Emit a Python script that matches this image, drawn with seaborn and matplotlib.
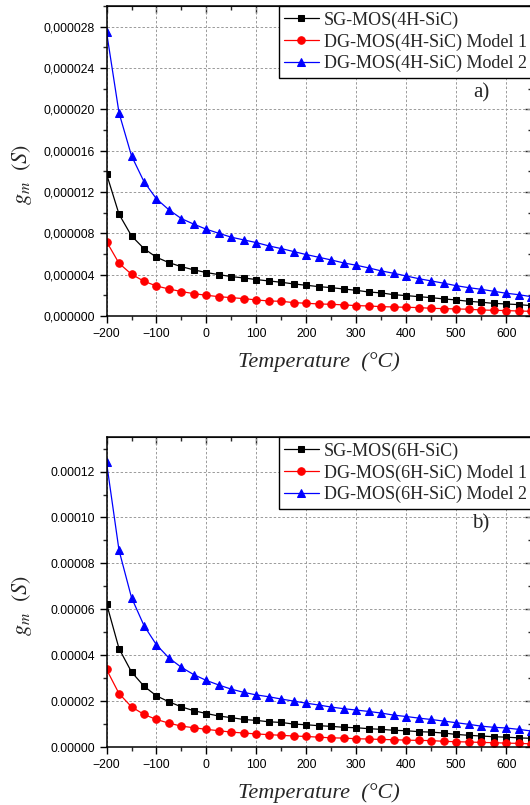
import numpy as np
import matplotlib
matplotlib.use("Agg")
import matplotlib.pyplot as plt
from matplotlib.ticker import MultipleLocator, FuncFormatter
import seaborn as sns

# temperature axis, -200..650 step 25 (35 points)
temperature = list(range(-200, 651, 25))

# a) 4H-SiC, gm in 1e-6 S
sg_4h = [13.75, 9.85, 7.75, 6.52, 5.68, 5.16, 4.77, 4.46, 4.20, 4.00, 3.81, 3.68,
         3.52, 3.39, 3.26, 3.10, 2.97, 2.84, 2.74, 2.61, 2.48, 2.32, 2.23, 2.06,
         1.97, 1.87, 1.77, 1.65, 1.55, 1.42, 1.33, 1.22, 1.16, 1.10, 1.00]
dg1_4h = [7.20, 5.10, 4.04, 3.36, 2.90, 2.61, 2.36, 2.16, 2.00, 1.87, 1.77, 1.68,
          1.55, 1.45, 1.42, 1.29, 1.23, 1.16, 1.13, 1.07, 1.00, 0.97, 0.90, 0.87,
          0.84, 0.81, 0.74, 0.71, 0.68, 0.65, 0.58, 0.55, 0.52, 0.48, 0.45]
dg2_4h = [27.5, 19.66, 15.5, 13.0, 11.33, 10.27, 9.42, 8.88, 8.39, 8.00, 7.62, 7.36,
          7.10, 6.78, 6.52, 6.23, 5.94, 5.68, 5.42, 5.13, 4.91, 4.65, 4.36, 4.13,
          3.87, 3.61, 3.39, 3.17, 2.93, 2.74, 2.58, 2.39, 2.20, 2.06, 1.87]

# b) 6H-SiC, gm in 1e-5 S
sg_6h = [6.25, 4.29, 3.27, 2.65, 2.23, 1.97, 1.75, 1.58, 1.46, 1.35, 1.28, 1.20,
         1.16, 1.10, 1.07, 1.00, 0.97, 0.93, 0.90, 0.86, 0.84, 0.80, 0.77, 0.73,
         0.71, 0.67, 0.65, 0.61, 0.55, 0.51, 0.48, 0.45, 0.43, 0.40, 0.38]
dg1_6h = [3.38, 2.33, 1.75, 1.42, 1.20, 1.04, 0.91, 0.84, 0.77, 0.71, 0.65, 0.61,
          0.57, 0.54, 0.51, 0.48, 0.46, 0.43, 0.40, 0.39, 0.36, 0.35, 0.33, 0.32,
          0.30, 0.29, 0.28, 0.25, 0.23, 0.22, 0.20, 0.19, 0.17, 0.16, 0.14]
dg2_6h = [12.4, 8.57, 6.51, 5.29, 4.45, 3.88, 3.47, 3.15, 2.90, 2.70, 2.52, 2.38,
          2.27, 2.19, 2.09, 2.00, 1.91, 1.83, 1.74, 1.67, 1.61, 1.55, 1.48, 1.39,
          1.33, 1.26, 1.20, 1.13, 1.06, 0.99, 0.91, 0.86, 0.83, 0.77, 0.70]

labels_4h = ["SG-MOS(4H-SiC)", "DG-MOS(4H-SiC) Model 1", "DG-MOS(4H-SiC) Model 2"]
labels_6h = ["SG-MOS(6H-SiC)", "DG-MOS(6H-SiC) Model 1", "DG-MOS(6H-SiC) Model 2"]
colors = ["black", "red", "blue"]
markers = ["s", "o", "^"]
msizes = [4.8, 5.4, 6.0]

sns.set_style("ticks")
plt.rcParams['font.family'] = ['Liberation Sans', 'DejaVu Sans']
plt.rcParams['mathtext.fontset'] = 'stix'

fig = plt.figure(figsize=(5.30, 8.05), dpi=100)
ax_a = fig.add_axes([0.201, 0.6075, 0.803, 0.385])
ax_b = fig.add_axes([0.201, 0.072, 0.803, 0.385])


def draw_panel(ax, series, labels, scale, ylim, ymajor, fmt, tag):
    for vals, lab, c, m, ms in zip(series, labels, colors, markers, msizes):
        sns.lineplot(x=temperature, y=np.array(vals) * scale, ax=ax, color=c,
                     marker=m, markersize=ms, markeredgecolor=c, linewidth=0.9,
                     label=lab)
    ax.set_xlim(-200, 652)
    ax.set_ylim(*ylim)
    ax.xaxis.set_major_locator(MultipleLocator(100))
    ax.xaxis.set_minor_locator(MultipleLocator(50))
    ax.yaxis.set_major_locator(MultipleLocator(ymajor))
    ax.yaxis.set_minor_locator(MultipleLocator(ymajor / 2))
    ax.yaxis.set_major_formatter(FuncFormatter(fmt))
    ax.grid(True, which='major', color='#9a9a9a', linestyle=(0, (2.5, 2)), linewidth=0.7)
    ax.tick_params(which='major', direction='out', length=5, width=1, labelsize=8.8,
                   colors='black')
    ax.tick_params(which='minor', direction='out', length=3, width=1)
    for s in ax.spines.values():
        s.set_visible(True)
        s.set_color('black')
        s.set_linewidth(1.1)

    # inward ticks on top and right
    top = ax.secondary_xaxis('top')
    top.xaxis.set_major_locator(MultipleLocator(100))
    top.xaxis.set_minor_locator(MultipleLocator(50))
    top.tick_params(which='major', direction='in', length=5, width=1, labeltop=False)
    top.tick_params(which='minor', direction='in', length=3, width=1)
    right = ax.secondary_yaxis('right')
    right.yaxis.set_major_locator(MultipleLocator(ymajor))
    right.yaxis.set_minor_locator(MultipleLocator(ymajor / 2))
    right.tick_params(which='major', direction='in', length=5, width=1, labelright=False)
    right.tick_params(which='minor', direction='in', length=3, width=1)

    ax.set_xlabel("Temperature  (°C)", fontsize=16, style='italic',
                  family=['Liberation Serif', 'DejaVu Serif'], labelpad=9)
    ax.set_ylabel(r"$g_m\ \ (S)$", fontsize=16)
    ax.yaxis.set_label_coords(-0.17, 0.455)

    leg = ax.legend(loc='upper left', bbox_to_anchor=(0.405, 1.0), borderaxespad=0,
                    frameon=True, fancybox=False, edgecolor='black', framealpha=1,
                    prop={'family': 'Liberation Serif', 'size': 13},
                    handlelength=1.9, handletextpad=0.3, borderpad=0.3,
                    labelspacing=0.25)
    leg.get_frame().set_linewidth(1.0)
    ax.text(0.88, 0.72, tag, transform=ax.transAxes, fontsize=15,
            family='Liberation Serif', ha='center', va='center')


draw_panel(ax_a, [sg_4h, dg1_4h, dg2_4h], labels_4h, 1e-6, (0, 3.0e-5), 4e-6,
           lambda v, p: f"{v:.6f}".replace('.', ','), "a)")
draw_panel(ax_b, [sg_6h, dg1_6h, dg2_6h], labels_6h, 1e-5, (0, 1.35e-4), 2e-5,
           lambda v, p: f"{v:.5f}", "b)")

fig.savefig("out.png", dpi=100)
